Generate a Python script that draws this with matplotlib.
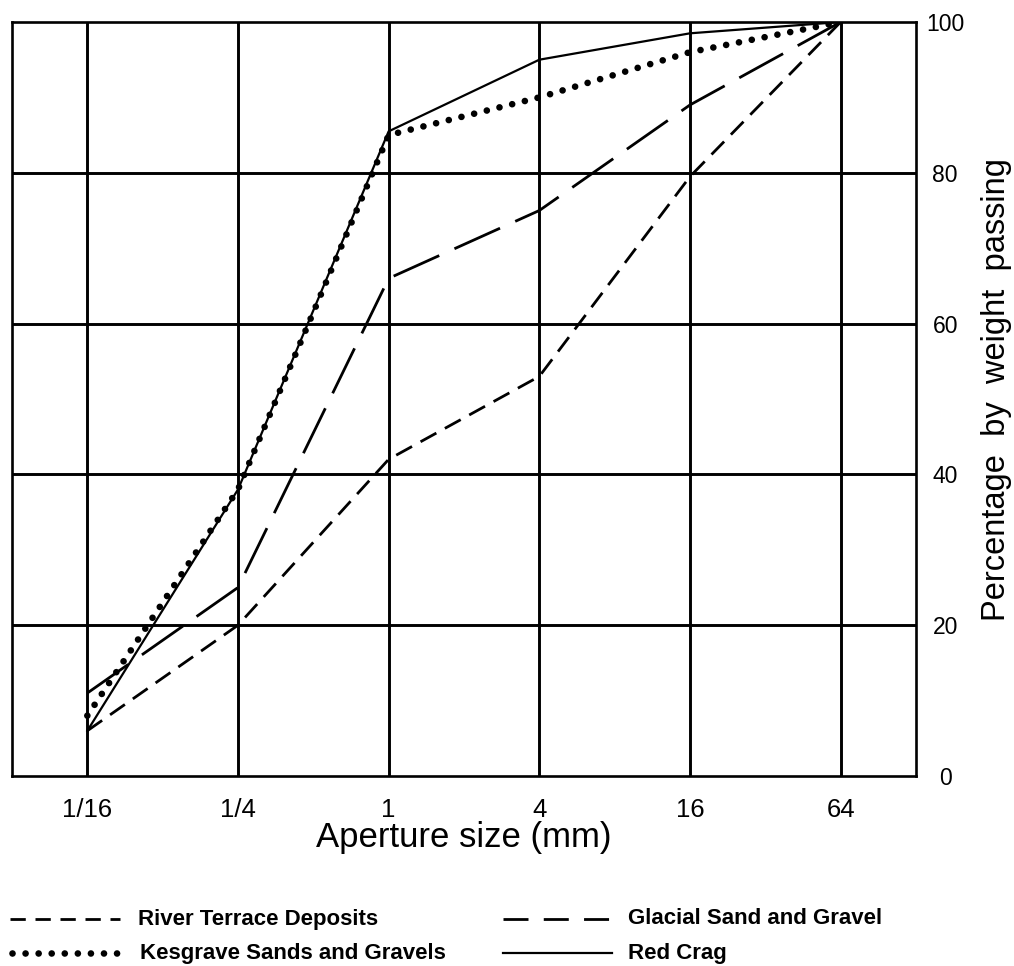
# grading curves for the four deposits - percentage passing vs sieve aperture
# x axis is categorical (each step is x4 in aperture), y axis on the right

import matplotlib
matplotlib.use("Agg")
import matplotlib.pyplot as plt
from matplotlib.lines import Line2D

# data
aperture_labels = ["1/16", "1/4", "1", "4", "16", "64"]
river_terrace = [6, 20, 42, 53, 79.5, 100]
glacial = [11, 25, 66, 75, 89, 100]
kesgrave = [8, 38, 85, 90, 96, 100]
red_crag = [6, 38, 85.5, 95, 98.5, 100]
y_ticks = [0, 20, 40, 60, 80, 100]

plt.rcParams.update({
    "font.family": ["Liberation Sans", "DejaVu Sans"],
    "lines.scale_dashes": False,  # dash lengths below are in points
})

W, H = 1014, 966
fig = plt.figure(figsize=(W / 100, H / 100), dpi=100)

# axes box in pixels: left 12, right 916, top 22, bottom 776
ax = fig.add_axes([12 / W, 1 - 776 / H, (916 - 12) / W, (776 - 22) / H])

# line styles
STYLES = {
    "river":    dict(color="black", lw=2.0, ls=(0, (13, 7))),
    "glacial":  dict(color="black", lw=2.0, ls=(0, (36, 12))),
    "kesgrave": dict(color="black", lw=4.8, ls=(0, (0.01, 9.4)),
                     dash_capstyle="round"),
    "red":      dict(color="black", lw=1.6, ls="-"),
}

x = list(range(len(aperture_labels)))

# grid first so the curves sit on top
for xv in x:
    ax.axvline(xv, color="black", lw=2.1, zorder=1)
for yv in y_ticks[1:-1]:
    ax.axhline(yv, color="black", lw=2.1, zorder=1)

ax.plot(x, river_terrace, zorder=3, **STYLES["river"])
ax.plot(x, glacial, zorder=3, **STYLES["glacial"])
ax.plot(x, kesgrave, zorder=4, **STYLES["kesgrave"])
ax.plot(x, red_crag, zorder=3, **STYLES["red"])

ax.set_xlim(-0.5, 5.5)
ax.set_ylim(0, 100)

for side in ax.spines.values():
    side.set_linewidth(1.9)
    side.set_color("black")

ax.set_xticks(x)
ax.set_xticklabels(aperture_labels, fontsize=18.5)
ax.tick_params(axis="x", length=0, pad=16)

ax.yaxis.tick_right()
ax.set_yticks(y_ticks)
ax.set_yticklabels([str(v) for v in y_ticks], fontsize=16.5, ha="center")
ax.tick_params(axis="y", length=0, pad=21)

ax.set_xlabel("Aperture size (mm)", fontsize=25)
ax.xaxis.set_label_coords(0.5, -0.060)
ax.xaxis.label.set_va("top")

ax.yaxis.set_label_position("right")
ax.set_ylabel("Percentage  by  weight  passing", fontsize=23.5)
ax.yaxis.set_label_coords((981 - 12) / (916 - 12), 0.512)

# hand-made legend underneath, two columns
legend_rows = [
    # (label, style key, line x0, line x1, text x, y, sample dashes)
    ("River Terrace Deposits", "river", 10, 120, 138, 919, (0, (11, 7))),
    ("Kesgrave Sands and Gravels", "kesgrave", 12, 122, 140, 953, None),
    ("Glacial Sand and Gravel", "glacial", 503, 612, 628, 919, (0, (18, 11))),
    ("Red Crag", "red", 503, 612, 628, 953, None),
]
for label, key, x0, x1, tx, y, dashes in legend_rows:
    style = dict(STYLES[key])
    if dashes is not None:
        style["ls"] = dashes
    fig.add_artist(Line2D([x0 / W, x1 / W], [1 - y / H, 1 - y / H],
                          transform=fig.transFigure, **style))
    fig.text(tx / W, 1 - y / H, label, fontsize=16, fontweight="bold",
             ha="left", va="center")

fig.savefig("out.png", dpi=100)
